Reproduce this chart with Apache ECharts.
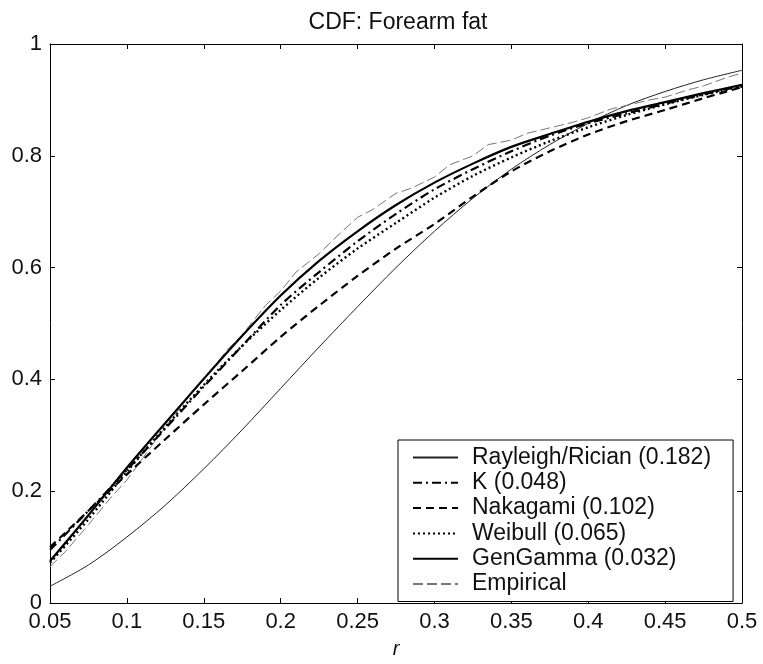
<!DOCTYPE html>
<html>
<head>
<meta charset="utf-8">
<script src="https://cdn.jsdelivr.net/npm/echarts@6/dist/echarts.min.js"></script>
<style>
html,body{margin:0;padding:0;background:#fff;}
#chart{width:763px;height:664px;}
</style>
</head>
<body>
<div id="chart"></div>
<script>
var titleText = 'CDF: Forearm fat';
var xLabel = 'r';
var rValues = [0.05,0.075,0.1,0.125,0.15,0.175,0.2,0.225,0.25,0.275,0.3,0.325,0.35,0.375,0.4,0.425,0.45,0.475,0.5];
var rayleigh = [0.030,0.068,0.118,0.175,0.240,0.310,0.384,0.458,0.530,0.600,0.665,0.724,0.776,0.820,0.858,0.890,0.915,0.936,0.953];
var kDist    = [0.095,0.165,0.238,0.312,0.387,0.460,0.533,0.592,0.647,0.696,0.740,0.776,0.808,0.836,0.858,0.876,0.893,0.910,0.925];
var nakagami = [0.100,0.165,0.230,0.293,0.355,0.415,0.476,0.532,0.585,0.634,0.678,0.727,0.772,0.808,0.838,0.862,0.882,0.903,0.923];
var weibull  = [0.072,0.150,0.235,0.315,0.390,0.460,0.524,0.582,0.634,0.680,0.725,0.764,0.797,0.826,0.851,0.873,0.892,0.909,0.924];
var genGamma = [0.075,0.157,0.242,0.322,0.401,0.478,0.550,0.612,0.665,0.712,0.752,0.786,0.816,0.839,0.861,0.880,0.896,0.912,0.927];
var empiricalR = [0.05,0.06,0.075,0.09,0.1,0.11,0.125,0.14,0.15,0.165,0.175,0.19,0.2,0.21,0.225,0.235,0.25,0.26,0.275,0.285,0.3,0.31,0.325,0.335,0.35,0.36,0.375,0.39,0.4,0.415,0.425,0.44,0.45,0.465,0.475,0.49,0.5];
var empirical  = [0.065,0.092,0.140,0.190,0.220,0.258,0.315,0.368,0.400,0.452,0.480,0.532,0.558,0.592,0.625,0.652,0.690,0.704,0.733,0.742,0.762,0.784,0.800,0.820,0.828,0.840,0.850,0.860,0.868,0.884,0.890,0.900,0.905,0.918,0.925,0.940,0.948];
var seriesNames = ['Rayleigh/Rician (0.182)','K (0.048)','Nakagami (0.102)','Weibull (0.065)','GenGamma (0.032)','Empirical'];

function pairs(xs, ys){ return xs.map(function(r,i){ return [r, ys[i]]; }); }

var FONT = 'Liberation Sans, Arial, sans-serif';
var chart = echarts.init(document.getElementById('chart'));
var axisCommon = {
  type: 'value',
  axisLine: {show: true, onZero: false, lineStyle: {color: '#000', width: 1}},
  axisTick: {show: true, inside: true, length: 5, lineStyle: {color: '#000'}},
  splitLine: {show: false}
};
var hidden = {color: 'rgba(0,0,0,0)'};
chart.setOption({
  animation: false,
  backgroundColor: '#fff',
  title: {
    text: titleText, left: 393, top: 6, textAlign: 'center',
    textStyle: {fontFamily: FONT, fontSize: 23, fontWeight: 'normal', color: '#111'}
  },
  grid: {left: 50, right: 21, top: 44, bottom: 55, containLabel: false},
  legend: {
    orient: 'vertical', left: 398, top: 440,
    padding: [6, 22, 6, 14],
    backgroundColor: '#fff', borderColor: '#000', borderWidth: 1,
    itemWidth: 45, itemHeight: 14, itemGap: 2.3,
    itemStyle: {opacity: 0},
    textStyle: {fontFamily: FONT, fontSize: 23, color: '#111', padding: [0, 0, 0, 9]},
    data: seriesNames
  },
  xAxis: [
    Object.assign({}, axisCommon, {
      position: 'bottom', min: 0.05, max: 0.5, interval: 0.05,
      axisLabel: {fontFamily: FONT, fontSize: 22, color: '#111', margin: 8},
      name: xLabel, nameLocation: 'middle', nameGap: 36,
      nameTextStyle: {fontFamily: FONT, fontSize: 20, fontStyle: 'italic', color: '#111'}
    }),
    Object.assign({}, axisCommon, {
      position: 'top', min: 0.05, max: 0.5, interval: 0.05,
      axisLabel: {show: false}
    })
  ],
  yAxis: [
    Object.assign({}, axisCommon, {
      position: 'left', min: 0, max: 1, interval: 0.2,
      axisLabel: {fontFamily: FONT, fontSize: 22, color: '#111', margin: 8}
    }),
    Object.assign({}, axisCommon, {
      position: 'right', min: 0, max: 1, interval: 0.2,
      axisLabel: {show: false}
    })
  ],
  series: [
    {name: seriesNames[0], type: 'line', data: pairs(rValues, rayleigh), showSymbol: false, symbol: 'none', smooth: 0.3,
      itemStyle: hidden, lineStyle: {color: '#222', width: 1, type: 'solid'}, z: 2},
    {name: seriesNames[1], type: 'line', data: pairs(rValues, kDist), showSymbol: false, symbol: 'none', smooth: 0.3,
      itemStyle: hidden, lineStyle: {color: '#000', width: 2.2, type: [9, 4, 2, 4]}, z: 3},
    {name: seriesNames[2], type: 'line', data: pairs(rValues, nakagami), showSymbol: false, symbol: 'none', smooth: 0.3,
      itemStyle: hidden, lineStyle: {color: '#000', width: 2.2, type: [8, 5]}, z: 3},
    {name: seriesNames[3], type: 'line', data: pairs(rValues, weibull), showSymbol: false, symbol: 'none', smooth: 0.3,
      itemStyle: hidden, lineStyle: {color: '#000', width: 2.4, type: [2, 3]}, z: 3},
    {name: seriesNames[4], type: 'line', data: pairs(rValues, genGamma), showSymbol: false, symbol: 'none', smooth: 0.3,
      itemStyle: hidden, lineStyle: {color: '#000', width: 2.2, type: 'solid'}, z: 4},
    {name: seriesNames[5], type: 'line', data: pairs(empiricalR, empirical), showSymbol: false, symbol: 'none',
      itemStyle: hidden, lineStyle: {color: '#777', width: 1, type: [10, 4]}, z: 2}
  ]
});
</script>
</body>
</html>
